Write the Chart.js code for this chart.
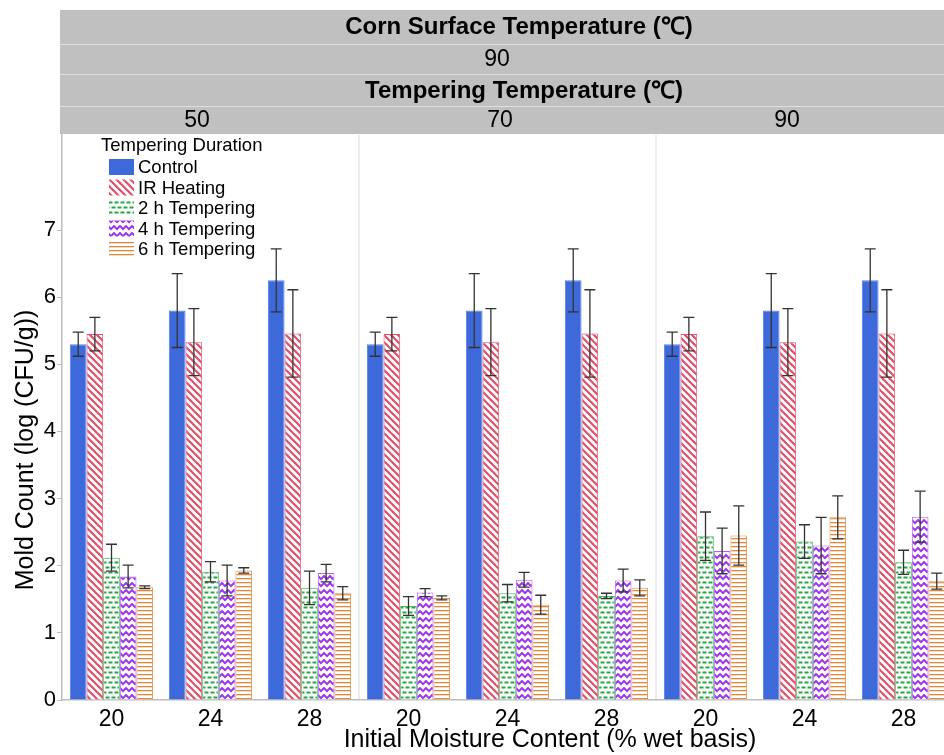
<!DOCTYPE html>
<html>
<head>
<meta charset="utf-8">
<script src="https://cdn.jsdelivr.net/npm/chart.js@4.4.1/dist/chart.umd.min.js"></script>
<style>
  html, body { margin: 0; padding: 0; background: #fff; overflow: hidden; }
  #wrap { width: 1000px; height: 755px; }
</style>
</head>
<body>
<div id="wrap"><canvas id="moldChart" width="1000" height="755"></canvas></div>
<script>
// Data
const moistureLabels = ['20', '24', '28', '20', '24', '28', '20', '24', '28'];
const temperingTemps = ['50', '70', '90'];
const seriesNames = ['Control', 'IR Heating', '2 h Tempering', '4 h Tempering', '6 h Tempering'];

const control = [5.30, 5.80, 6.25, 5.30, 5.80, 6.25, 5.30, 5.80, 6.25];
const controlErr = [0.18, 0.55, 0.47, 0.18, 0.55, 0.47, 0.18, 0.55, 0.47];
const irHeating = [5.45, 5.33, 5.46, 5.45, 5.33, 5.46, 5.45, 5.33, 5.46];
const irHeatingErr = [0.25, 0.50, 0.65, 0.25, 0.50, 0.65, 0.25, 0.50, 0.65];
const temper2h = [2.12, 1.91, 1.67, 1.40, 1.59, 1.55, 2.44, 2.36, 2.05];
const temper2hErr = [0.20, 0.15, 0.25, 0.14, 0.13, 0.04, 0.36, 0.25, 0.18];
const temper4h = [1.84, 1.78, 1.89, 1.60, 1.79, 1.78, 2.22, 2.30, 2.73];
const temper4hErr = [0.17, 0.23, 0.13, 0.06, 0.11, 0.17, 0.34, 0.42, 0.38];
const temper6h = [1.68, 1.93, 1.59, 1.52, 1.42, 1.67, 2.45, 2.72, 1.77];
const temper6hErr = [0.02, 0.04, 0.10, 0.03, 0.14, 0.12, 0.44, 0.32, 0.12];

const FONT = "'Liberation Sans', Arial, sans-serif";

// small pattern tiles for the hatched bars
function makePattern(w, h, draw) {
    const c = document.createElement('canvas');
    c.width = w; c.height = h;
    const g = c.getContext('2d');
    g.fillStyle = '#ffffff';
    g.fillRect(0, 0, w, h);
    draw(g);
    return g.createPattern(c, 'repeat');
}

const ctx = document.getElementById('moldChart').getContext('2d');

const irPattern = makePattern(7, 7, g => {
    g.strokeStyle = '#e0506a';
    g.lineWidth = 2.2;
    for (let k = -7; k <= 7; k += 7) {
        g.beginPath();
        g.moveTo(k - 1, -1);
        g.lineTo(k + 8, 8);
        g.stroke();
    }
});
const greenPattern = makePattern(6, 10, g => {
    g.fillStyle = '#27a545';
    g.fillRect(0.5, 1.5, 4, 2);
    g.fillRect(3.5, 6.5, 2.5, 2);
    g.fillRect(0, 6.5, 1.5, 2);
});
const purplePattern = makePattern(6, 7, g => {
    g.strokeStyle = '#9b35ee';
    g.lineWidth = 1.9;
    g.beginPath();
    g.moveTo(-1.5, 0.5); g.lineTo(0, 2); g.lineTo(3, 5.2); g.lineTo(6, 2); g.lineTo(7.5, 0.5);
    g.stroke();
});
const orangePattern = makePattern(4, 4, g => {
    g.fillStyle = '#e0873a';
    g.fillRect(0, 2, 4, 1.3);
});

const fills = ['#3d69da', irPattern, greenPattern, purplePattern, orangePattern];
const borders = ['#5b82e6', '#e0506a', '#45b85e', '#b160f2', '#e0924a'];
const values = [control, irHeating, temper2h, temper4h, temper6h];
const errors = [controlErr, irHeatingErr, temper2hErr, temper4hErr, temper6hErr];

const datasets = seriesNames.map((name, i) => ({
    label: name,
    data: values[i],
    errors: errors[i],
    backgroundColor: fills[i],
    borderColor: borders[i],
    borderWidth: 1,
    categoryPercentage: 0.84,
    barPercentage: 1.0
}));

// header bands, panel separators and axis titles
const decorPlugin = {
    id: 'decor',
    beforeDraw(chart) {
        const c = chart.ctx;
        const area = chart.chartArea;
        const x = chart.scales.x;
        c.save();
        c.fillStyle = '#dedede';
        c.fillRect(60, 10, chart.width - 60, 124);
        c.fillStyle = '#c0c0c0';
        [[10, 34], [45, 29], [75, 31], [107, 27]].forEach(b => c.fillRect(60, b[0], chart.width - 60, b[1]));

        c.fillStyle = '#000';
        c.textAlign = 'center';
        c.textBaseline = 'middle';
        c.font = 'bold 24px ' + FONT;
        c.fillText('Corn Surface Temperature (\u2103)', 519, 27);
        c.fillText('Tempering Temperature (\u2103)', 524, 91);
        c.font = '23px ' + FONT;
        c.fillText('90', 497, 60);
        const labelX = [197, 500, 787];
        temperingTemps.forEach((t, i) => c.fillText(t, labelX[i], 121));

        // panel separators
        c.strokeStyle = '#e6e6e6';
        c.lineWidth = 1.5;
        [2.5, 5.5].forEach(v => {
            const px = x.getPixelForValue(v);
            c.beginPath();
            c.moveTo(px, area.top);
            c.lineTo(px, area.bottom);
            c.stroke();
        });

        // axis titles
        c.font = '25px ' + FONT;
        c.fillText('Initial Moisture Content (% wet basis)', 550, 740);
        c.translate(26, 450);
        c.rotate(-Math.PI / 2);
        c.fillText('Mold Count (log (CFU/g))', 0, 0);
        c.restore();
    },
    afterDatasetsDraw(chart) {
        const c = chart.ctx;
        const y = chart.scales.y;
        c.save();
        c.strokeStyle = '#333';
        c.lineWidth = 1.3;
        chart.data.datasets.forEach((ds, di) => {
            const meta = chart.getDatasetMeta(di);
            meta.data.forEach((bar, i) => {
                const v = ds.data[i], e = ds.errors[i];
                const top = y.getPixelForValue(v + e);
                const bot = y.getPixelForValue(v - e);
                c.beginPath();
                c.moveTo(bar.x, top); c.lineTo(bar.x, bot);
                c.moveTo(bar.x - 5.5, top); c.lineTo(bar.x + 5.5, top);
                c.moveTo(bar.x - 5.5, bot); c.lineTo(bar.x + 5.5, bot);
                c.stroke();
            });
        });

        // legend
        c.fillStyle = '#000';
        c.textAlign = 'left';
        c.textBaseline = 'middle';
        c.font = '18.5px ' + FONT;
        c.fillText('Tempering Duration', 101, 146);
        chart.data.datasets.forEach((ds, i) => {
            const cy = 167 + i * 20.5;
            c.fillStyle = ds.backgroundColor;
            c.fillRect(109, cy - 8, 25, 16);
            c.fillStyle = '#000';
            c.fillText(ds.label, 138, cy + 1);
        });
        c.restore();
    }
};

new Chart(ctx, {
    type: 'bar',
    data: { labels: moistureLabels, datasets: datasets },
    plugins: [decorPlugin],
    options: {
        responsive: false,
        animation: false,
        devicePixelRatio: 1,
        layout: { padding: { top: 135, right: 47, left: 0, bottom: 0 } },
        plugins: {
            legend: { display: false },
            tooltip: { enabled: false }
        },
        scales: {
            x: {
                grid: { display: false, drawTicks: false },
                border: { display: true, color: '#bdbdbd', width: 1.5 },
                ticks: {
                    color: '#000',
                    padding: 6,
                    maxRotation: 0,
                    font: { family: FONT, size: 23 }
                },
                afterFit(scale) { scale.height = 55; }
            },
            y: {
                min: 0,
                max: 8.415,
                afterBuildTicks(scale) {
                    scale.ticks = scale.ticks.filter(t => t.value <= 7 && Number.isInteger(t.value));
                },
                ticks: {
                    stepSize: 1,
                    color: '#000',
                    padding: 1,
                    font: { family: FONT, size: 22 }
                },
                grid: { drawOnChartArea: false, drawTicks: true, tickLength: 5, color: '#bdbdbd' },
                border: { display: true, color: '#bdbdbd', width: 1.5 },
                afterFit(scale) { scale.width = 62; }
            }
        }
    }
});
</script>
</body>
</html>
